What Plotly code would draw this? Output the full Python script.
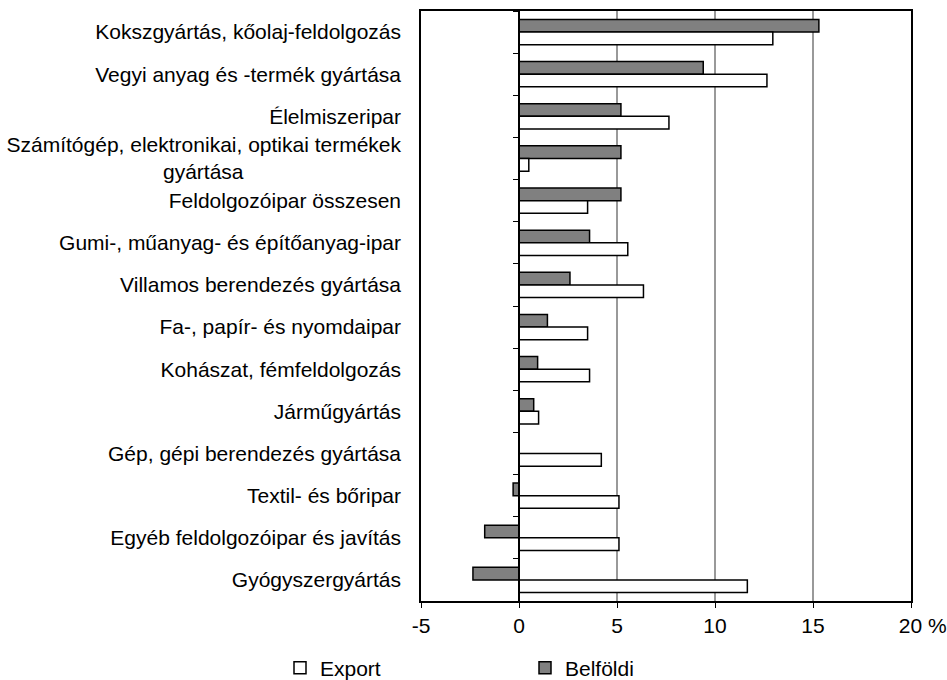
import plotly.graph_objects as go

categories = [
    "Kokszgyártás, kőolaj-feldolgozás",
    "Vegyi anyag és -termék gyártása",
    "Élelmiszeripar",
    "Számítógép, elektronikai, optikai termékek<br>gyártása" + "\u00a0" * 27,
    "Feldolgozóipar összesen",
    "Gumi-, műanyag- és építőanyag-ipar",
    "Villamos berendezés gyártása",
    "Fa-, papír- és nyomdaipar",
    "Kohászat, fémfeldolgozás",
    "Járműgyártás",
    "Gép, gépi berendezés gyártása",
    "Textil- és bőripar",
    "Egyéb feldolgozóipar és javítás",
    "Gyógyszergyártás",
]
belfoldi = [15.3, 9.4, 5.2, 5.2, 5.2, 3.6, 2.6, 1.45, 0.95, 0.75, 0.0, -0.3, -1.75, -2.35]
export = [12.95, 12.65, 7.65, 0.5, 3.5, 5.55, 6.35, 3.5, 3.6, 1.0, 4.2, 5.1, 5.1, 11.65]

x_ticks = [-5, 0, 5, 10, 15, 20]
x_ticktext = ["-5", "0", "5", "10", "15", "\u00a0\u00a0\u00a0\u00a020 %"]

FONT = "Liberation Sans, Arial, sans-serif"

fig = go.Figure()

fig.add_trace(go.Bar(
    x=belfoldi, y=categories, orientation="h", name="Belföldi",
    marker=dict(color="#808080", line=dict(color="black", width=1.5)),
    legend="legend2",
))
fig.add_trace(go.Bar(
    x=export, y=categories, orientation="h", name="Export",
    marker=dict(color="white", line=dict(color="black", width=1.5)),
    legend="legend",
))

# invisible trace for the category axis drawn at zero
fig.add_trace(go.Scatter(
    x=[0] * len(categories), y=categories, yaxis="y2", mode="none",
    showlegend=False, hoverinfo="skip",
))

legend_style = dict(
    orientation="h",
    xref="container",
    yref="container",
    y=12 / 680,
    xanchor="left",
    yanchor="middle",
    itemwidth=30,
    font=dict(size=21),
    bgcolor="rgba(0,0,0,0)",
)

y_range = [len(categories) - 0.5, -0.5]

fig.update_layout(
    width=947,
    height=680,
    margin=dict(l=421, r=36, t=11, b=79),
    paper_bgcolor="white",
    plot_bgcolor="white",
    font=dict(family=FONT, size=21, color="black"),
    barmode="group",
    bargap=0.4,
    bargroupgap=0,
    xaxis=dict(
        range=[-5, 20],
        tickvals=x_ticks,
        ticktext=x_ticktext,
        automargin=False,
        showgrid=True,
        gridcolor="#999999",
        gridwidth=1.5,
        zeroline=False,
        showline=True,
        linecolor="black",
        linewidth=1.5,
        mirror=True,
        ticks="outside",
        ticklen=5,
        tickcolor="black",
        tickwidth=1.2,
    ),
    yaxis=dict(
        range=y_range,
        automargin=False,
        showgrid=False,
        showline=True,
        linecolor="black",
        linewidth=1.5,
        mirror=True,
        ticks="",
        ticklabelstandoff=14,
    ),
    yaxis2=dict(
        overlaying="y",
        matches="y",
        range=y_range,
        anchor="free",
        position=0.2,
        side="left",
        automargin=False,
        showgrid=False,
        showline=True,
        linecolor="black",
        linewidth=1.5,
        ticks="outside",
        tickson="boundaries",
        ticklen=5,
        tickcolor="black",
        showticklabels=False,
    ),
    legend=dict(legend_style, x=280 / 947),
    legend2=dict(legend_style, x=525 / 947),
)

fig.write_html(
    "out.html",
    config={"displayModeBar": False},
    post_script="document.body.style.margin='0';",
)
